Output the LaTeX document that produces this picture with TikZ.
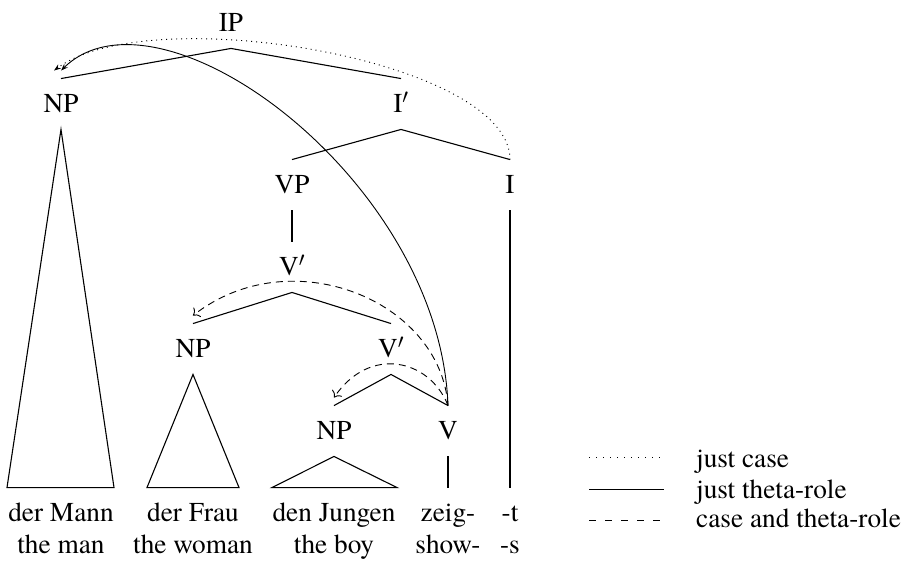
\documentclass[tikz,border=0pt]{standalone}
\usepackage{fontspec}
\setmainfont{texgyretermes}[Extension=.otf,UprightFont=*-regular,BoldFont=*-bold,ItalicFont=*-italic,BoldItalicFont=*-bolditalic]
\usetikzlibrary{arrows.meta}
\begin{document}
\begin{tikzpicture}[x=1pt,y=-1pt,
  font=\fontsize{27.3}{31}\selectfont,
  lbl/.style={inner xsep=0pt,inner ysep=16.5pt,text height=17.5pt,text depth=0pt},
  br/.style={line width=1.1pt},
  arc/.style={line width=0.9pt},
  dotpat/.style={dash pattern=on 1pt off 4pt},
  dashpat/.style={dash pattern=on 7pt off 5pt},
  legdot/.style={dash pattern=on 1pt off 6pt},
  legdash/.style={dash pattern=on 7pt off 9pt},
  legtxt/.style={anchor=base west,inner sep=0pt}]
\useasboundingbox (0,0) rectangle (907,565);
% tree labels
\node[lbl] (IP)  at (231,23)  {IP};
\node[lbl] (NPa) at (61,104)  {NP};
\node[lbl] (Ib)  at (401,104) {I$'$};
\node[lbl] (VP)  at (292,185) {VP};
\node[lbl] (I)   at (510,185) {I};
\node[lbl] (Vba) at (292,267) {V$'$};
\node[lbl] (NPb) at (193,349) {NP};
\node[lbl] (Vbb) at (391,349) {V$'$};
\node[lbl] (NPc) at (334,431) {NP};
\node[lbl] (V)   at (448,431) {V};
% words
\node[lbl] (w1) at (61,513)  {der Mann};
\node[lbl] (w2) at (193,513) {der Frau};
\node[lbl] (w3) at (334,513) {den Jungen};
\node[lbl] (w4) at (448,513) {zeig-};
\node[lbl] (w5) at (510,513) {-t};
\node[lbl] (g1) at (61,545)  {the man};
\node[lbl] (g2) at (193,545) {the woman};
\node[lbl] (g3) at (334,545) {the boy};
\node[lbl] (g4) at (448,545) {show-};
\node[lbl] (g5) at (510,545) {-s};
% branches
\draw[br] (NPa.north) -- (IP.south) -- (Ib.north);
\draw[br] (VP.north) -- (Ib.south) -- (I.north);
\draw[br] (VP.south) -- (Vba.north);
\draw[br] (NPb.north) -- (Vba.south) -- (Vbb.north);
\draw[br] (NPc.north) -- (Vbb.south) -- (V.north);
\draw[br] (V.south) -- (w4.north);
\draw[br] (I.south) -- (w5.north);
% roofs
\draw[br] (NPa.south) -- ([xshift=-54pt]w1.north) -- ([xshift=53pt]w1.north) -- cycle;
\draw[br] (NPb.south) -- ([xshift=-46pt]w2.north) -- ([xshift=46pt]w2.north) -- cycle;
\draw[br] (NPc.south) -- ([xshift=-62pt]w3.north) -- ([xshift=63pt]w3.north) -- cycle;
% dependency arcs
\draw[arc,-{Stealth[length=7pt,width=5pt]}] (V.north) .. controls +(-8,-226) and +(99,-96) .. ([yshift=8pt]NPa.north);
\draw[arc,dotpat,-{Stealth[length=7pt,width=5pt]}] (I.north) .. controls +(0,-100) and +(96,-71) .. ([xshift=-7pt,yshift=8pt]NPa.north);
\draw[arc,dashpat,-{To[scale=1.6]}] (V.north) .. controls +(-8,-106) and +(97,-76) .. ([yshift=8pt]NPb.north);
\draw[arc,dashpat,-{To[scale=1.6]}] (V.north) .. controls +(-18,-46) and +(36,-53) .. ([yshift=8pt]NPc.north);
% legend
\coordinate (la) at (589,457); \coordinate (lb) at (662,457);
\coordinate (lc) at (589,489); \coordinate (ld) at (664,489);
\coordinate (le) at (589,520); \coordinate (lf) at (662,520);
\draw[arc,legdot] (la) -- (lb);
\draw[arc] (lc) -- (ld);
\draw[arc,legdash] (le) -- (lf);
\node[legtxt] (t1) at (696,467) {just case};
\node[legtxt] (t2) at (696,498) {just theta-role};
\node[legtxt] (t3) at (696,527) {case and theta-role};
\end{tikzpicture}
\end{document}
